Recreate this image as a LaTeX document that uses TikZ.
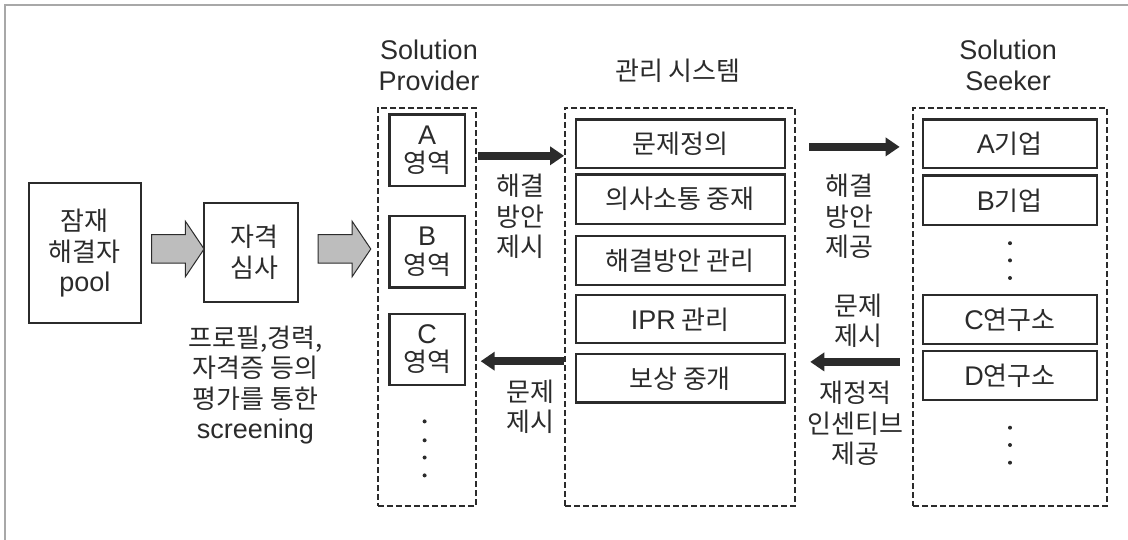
\documentclass[tikz,border=0pt]{standalone}
\usepackage{fontspec}
\setmainfont{Noto Sans CJK KR}
\newfontfamily\lat{Liberation Sans}
\usetikzlibrary{arrows.meta,shapes.arrows,calc}
\definecolor{ink}{HTML}{2B2B2B}
\definecolor{framegray}{HTML}{A8A8A8}
\definecolor{arrowgray}{HTML}{BDBDBD}
% Latin words inside the Korean text
\newcommand\la[1]{{\lat\fontsize{27}{31}\selectfont #1}}

\begin{document}
\begin{tikzpicture}[x=1pt,y=-1pt,
  txt/.style={text=ink,font=\fontsize{26}{30.5}\selectfont,align=center,inner sep=0},
  head/.style={text=ink,font=\lat\fontsize{27}{31}\selectfont,align=center,inner sep=0},
  box/.style={draw=ink,line width=2.2pt,text=ink,font=\fontsize{26}{30.5}\selectfont,align=center,inner sep=0},
  group/.style={draw=ink,line width=1.9pt,dash pattern=on 6pt off 3pt,inner sep=0},
  garrow/.style={single arrow,draw=ink,line width=1pt,fill=arrowgray,
    minimum height=52.6pt,inner xsep=0pt,inner ysep=13.75pt,
    single arrow head extend=13.5pt,single arrow tip angle=112},
  blk/.style={draw=ink,line width=8pt,-{Triangle[length=14pt,width=18pt]}},
  dot/.style={circle,fill=ink,inner sep=0,minimum size=4pt}]

\useasboundingbox (0,0) rectangle (1128,540);
% outer frame (left and top edges)
\draw[framegray,line width=2pt] (5,541) -- (5,5) -- (1129,5);

% candidate pool and screening
\node[box,minimum width=111.6pt,minimum height=140.4pt] (pool) at (84.8,253.2) {잠재\\해결자\\\la{pool}};
\node[box,minimum width=93.8pt,minimum height=99pt] (qual) at (250.9,252.5) {\hspace*{8pt}자격\\\hspace*{8pt}심사};
\node[garrow] (g1) at (173,249) {};
\node[garrow] (g2) at (339.7,249) {};
\node[txt] (scr) at (255.4,385.2) {프로필,경력,\\자격증 등의\\평가를 통한\\\la{screening}};

% Solution Provider
\node[head] (sptitle) at (429,65.4) {Solution\\Provider};
\node[group,minimum width=97.8pt,minimum height=398.7pt] (sp) at (426.8,307) {};
\node[box,font=\fontsize{26}{28.5}\selectfont,minimum width=75.4pt,minimum height=71.3pt] (spa) at (427.2,150.2) {\la{A}\\영역};
\node[box,font=\fontsize{26}{28.5}\selectfont,minimum width=75.4pt,minimum height=71.6pt] (spb) at (427.2,251.8) {\la{B}\\영역};
\node[box,font=\fontsize{26}{28.5}\selectfont,minimum width=75.4pt,minimum height=70.9pt] (spc) at (427.2,349.2) {\la{C}\\영역};
\node[dot] (spd1) at (424.6,421.4) {};
\node[dot] (spd2) at (424.6,440.3) {};
\node[dot] (spd3) at (424.6,457.5) {};
\node[dot] (spd4) at (424.6,475.4) {};

% management system
\node[txt] (mstitle) at (677.8,70.5) {관리 시스템};
\node[group,minimum width=229.8pt,minimum height=398.7pt] (ms) at (679.9,307) {};
\node[box,minimum width=209pt,minimum height=48.5pt] (ms1) at (680.1,143.8) {문제정의};
\node[box,minimum width=209pt,minimum height=49.5pt] (ms2) at (680.1,199.2) {의사소통 중재};
\node[box,minimum width=209pt,minimum height=48.8pt] (ms3) at (680.1,260.4) {해결방안 관리};
\node[box,minimum width=209pt,minimum height=48.1pt] (ms4) at (680.1,319.3) {\la{IPR} 관리};
\node[box,minimum width=209pt,minimum height=48.2pt] (ms5) at (680.1,378.4) {보상 중개};

% Solution Seeker
\node[head] (sstitle) at (1008.2,65.7) {Solution\\Seeker};
\node[group,minimum width=193.4pt,minimum height=398.7pt] (ss) at (1010,307) {};
\node[box,minimum width=173.7pt,minimum height=48.5pt] (ssa) at (1009.9,143.7) {\la{A}기업};
\node[box,minimum width=173.7pt,minimum height=49.9pt] (ssb) at (1009.9,200.4) {\la{B}기업};
\node[box,minimum width=173.7pt,minimum height=48.8pt] (ssc) at (1009.9,319.6) {\la{C}연구소};
\node[box,minimum width=173.7pt,minimum height=48.8pt] (ssd) at (1009.9,375.3) {\la{D}연구소};
\node[dot] (ssd1) at (1010,243.2) {};
\node[dot] (ssd2) at (1010,260.4) {};
\node[dot] (ssd3) at (1010,278) {};
\node[dot] (ssd4) at (1010,427.7) {};
\node[dot] (ssd5) at (1010,445) {};
\node[dot] (ssd6) at (1010,462.7) {};

% flow labels
\node[txt] (lsol) at (520.7,216.7) {해결\\방안\\제시};
\node[txt] (lprob) at (530.8,406.8) {문제\\제시};
\node[txt] (rsol) at (849.9,216.7) {해결\\방안\\제공};
\node[txt] (rprob) at (858.9,320.8) {문제\\제시};
\node[txt] (rinc) at (855.3,423.7) {재정적\\인센티브\\제공};

% flows between the groups
\coordinate (r1) at (0,155.8);
\coordinate (l1) at (0,361.2);
\coordinate (r2) at (0,146.9);
\coordinate (l2) at (0,361.9);
\draw[blk,shorten <=1pt] (sp.east |- r1) -- (ms.west |- r1);
\draw[blk,shorten >=4pt] (ms.west |- l1) -- (sp.east |- l1);
\draw[blk,shorten <=13.4pt,shorten >=12.7pt] (ms.east |- r2) -- (ss.west |- r2);
\draw[blk,shorten <=12.7pt,shorten >=14.5pt] (ss.west |- l2) -- (ms.east |- l2);
\end{tikzpicture}
\end{document}
